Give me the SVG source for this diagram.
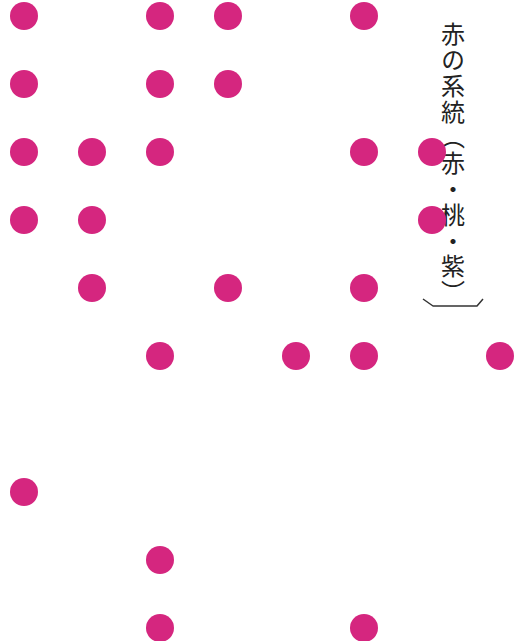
<svg xmlns="http://www.w3.org/2000/svg" width="517" height="641" viewBox="0 0 517 641">
<style>
.dot{fill:#D5267F}
.title{font-family:"Noto Sans CJK JP","Noto Sans CJK SC",sans-serif;font-size:24px;fill:#222;writing-mode:vertical-rl;letter-spacing:1.8px}
.br{fill:none;stroke:#333;stroke-width:1.5;stroke-linejoin:round}
</style>
<rect width="517" height="641" fill="#fff"/>
<g id="dots">
<g id="d-r1-c1"><circle class="dot" cx="24" cy="16" r="14"/></g>
<g id="d-r1-c3"><circle class="dot" cx="160" cy="16" r="14"/></g>
<g id="d-r1-c4"><circle class="dot" cx="228" cy="16" r="14"/></g>
<g id="d-r1-c6"><circle class="dot" cx="364" cy="16" r="14"/></g>
<g id="d-r2-c1"><circle class="dot" cx="24" cy="84" r="14"/></g>
<g id="d-r2-c3"><circle class="dot" cx="160" cy="84" r="14"/></g>
<g id="d-r2-c4"><circle class="dot" cx="228" cy="84" r="14"/></g>
<g id="d-r3-c1"><circle class="dot" cx="24" cy="152" r="14"/></g>
<g id="d-r3-c2"><circle class="dot" cx="92" cy="152" r="14"/></g>
<g id="d-r3-c3"><circle class="dot" cx="160" cy="152" r="14"/></g>
<g id="d-r3-c6"><circle class="dot" cx="364" cy="152" r="14"/></g>
<g id="d-r4-c1"><circle class="dot" cx="24" cy="220" r="14"/></g>
<g id="d-r4-c2"><circle class="dot" cx="92" cy="220" r="14"/></g>
<g id="d-r5-c2"><circle class="dot" cx="92" cy="288" r="14"/></g>
<g id="d-r5-c4"><circle class="dot" cx="228" cy="288" r="14"/></g>
<g id="d-r5-c6"><circle class="dot" cx="364" cy="288" r="14"/></g>
<g id="d-r6-c3"><circle class="dot" cx="160" cy="356" r="14"/></g>
<g id="d-r6-c5"><circle class="dot" cx="296" cy="356" r="14"/></g>
<g id="d-r6-c6"><circle class="dot" cx="364" cy="356" r="14"/></g>
<g id="d-r6-c8"><circle class="dot" cx="500" cy="356" r="14"/></g>
<g id="d-r8-c1"><circle class="dot" cx="24" cy="492" r="14"/></g>
<g id="d-r9-c3"><circle class="dot" cx="160" cy="560" r="14"/></g>
<g id="d-r10-c3"><circle class="dot" cx="160" cy="628" r="14"/></g>
<g id="d-r10-c6"><circle class="dot" cx="364" cy="628" r="14"/></g>
</g>
<g id="title">
<text class="title" x="453" y="22">赤の系統（赤・桃・紫）</text>
<path class="br" d="M423,299 L433,306 L477,306 L483,299"/>
</g>
<g id="title-dots">
<g id="d-r3-c7"><circle class="dot" cx="432" cy="152" r="14"/></g>
<g id="d-r4-c7"><circle class="dot" cx="432" cy="220" r="14"/></g>
</g>
</svg>
